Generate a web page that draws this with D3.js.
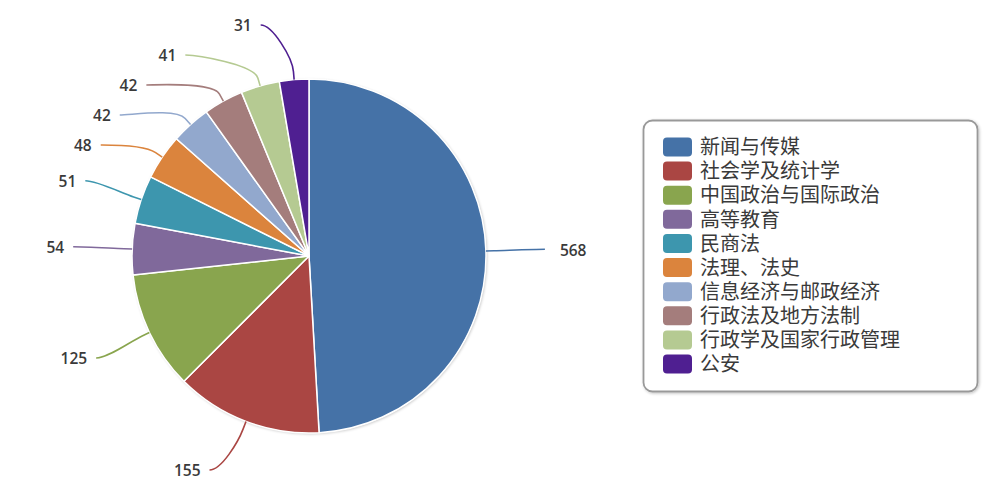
<!DOCTYPE html>
<html>
<head>
<meta charset="utf-8">
<script src="https://cdn.jsdelivr.net/npm/d3@7/dist/d3.min.js"></script>
<style>
  html, body { margin: 0; padding: 0; background: #fff; }
  svg { display: block; }
</style>
</head>
<body>
<svg id="chart" width="1000" height="494"></svg>
<script>
const categories = ["新闻与传媒", "社会学及统计学", "中国政治与国际政治", "高等教育", "民商法", "法理、法史", "信息经济与邮政经济", "行政法及地方法制", "行政学及国家行政管理", "公安"];
const values = [568, 155, 125, 54, 51, 48, 42, 42, 41, 31];
const colors = ["#4572A7", "#AA4643", "#89A54E", "#80699B", "#3D96AE", "#DB843D", "#92A8CD", "#A47D7C", "#B5CA92", "#4F1F91"];

const svg = d3.select("#chart");
const cx = 309, cy = 256, radius = 177;
const labelR = 236;
const slot = 30, topLimit = 25, bottomLimit = 470;

const data = categories.map((c, i) => ({ name: c, value: values[i], color: colors[i] }));
const pie = d3.pie().sort(null).value(d => d.value).startAngle(0).endAngle(2 * Math.PI);
const arcs = pie(data);
const arc = d3.arc().innerRadius(0).outerRadius(radius);

const defs = svg.append("defs");
const f = defs.append("filter").attr("id", "shadow").attr("x", "-10%").attr("y", "-10%").attr("width", "120%").attr("height", "120%");
f.append("feGaussianBlur").attr("in", "SourceAlpha").attr("stdDeviation", 1.5);
f.append("feOffset").attr("dx", 1).attr("dy", 1).attr("result", "b");
f.append("feComponentTransfer").append("feFuncA").attr("type", "linear").attr("slope", 0.25);
const m = f.append("feMerge"); m.append("feMergeNode"); m.append("feMergeNode").attr("in", "SourceGraphic");

const g = svg.append("g").attr("transform", `translate(${cx},${cy})`);
g.append("circle").attr("r", radius).attr("fill", "#fff").attr("filter", "url(#shadow)");
g.selectAll("path.slice").data(arcs).enter().append("path")
  .attr("class", "slice")
  .attr("d", arc)
  .attr("fill", d => d.data.color)
  .attr("stroke", "#fff")
  .attr("stroke-width", 1.5)
  .attr("stroke-linejoin", "round");

// label layout
arcs.forEach(a => {
  a.mid = (a.startAngle + a.endAngle) / 2;
  a.side = a.mid < Math.PI ? 1 : -1;
  a.natY = cy - labelR * Math.cos(a.mid);
});
function distribute(list) {
  list.sort((p, q) => p.natY - q.natY);
  list.forEach((a, i) => {
    let y = Math.max(a.natY, topLimit);
    if (i > 0) y = Math.max(y, list[i - 1].y + slot);
    a.y = y;
  });
  for (let i = list.length - 1; i >= 0; i--) {
    let y = Math.min(list[i].y, bottomLimit);
    if (i < list.length - 1) y = Math.min(y, list[i + 1].y - slot);
    list[i].y = y;
  }
}
distribute(arcs.filter(a => a.side === 1));
distribute(arcs.filter(a => a.side === -1));

const lg = svg.append("g");
arcs.forEach(a => {
  const dy = Math.max(-labelR, Math.min(labelR, a.y - cy));
  const ax = cx + a.side * Math.sqrt(labelR * labelR - dy * dy);
  const ay = a.y;
  const sx = Math.sin(a.mid), sy = -Math.cos(a.mid);
  const p4 = [cx + sx * radius, cy + sy * radius];
  const p2 = [cx + sx * (radius + 8), cy + sy * (radius + 8)];
  const c2 = [cx + sx * (radius + 22), cy + sy * (radius + 22)];
  const path = d3.path();
  path.moveTo(ax, ay);
  path.bezierCurveTo(ax - a.side * 12, ay, c2[0], c2[1], p2[0], p2[1]);
  path.lineTo(p4[0], p4[1]);
  lg.append("path").attr("d", path.toString())
    .attr("fill", "none").attr("stroke", a.data.color).attr("stroke-width", 1.6);
  lg.append("text")
    .attr("x", ax + (a.side === 1 ? 15 : -9))
    .attr("y", ay + 1)
    .attr("dy", "0.35em")
    .attr("text-anchor", a.side === 1 ? "start" : "end")
    .attr("font-family", "'Open Sans', sans-serif")
    .attr("font-size", 15.5)
    .attr("font-weight", 600)
    .attr("fill", "#3a3a3a")
    .text(a.data.value);
});

// legend
const leg = svg.append("g");
leg.append("rect").attr("x", 643.5).attr("y", 120.5).attr("width", 334).attr("height", 271)
  .attr("rx", 9).attr("fill", "#fff").attr("stroke", "#999").attr("stroke-width", 1.8)
  .attr("filter", "url(#shadow)");
const rowY = d3.scalePoint().domain(categories).range([147, 364]);
const items = leg.selectAll("g.item").data(data).enter().append("g").attr("class", "item")
  .attr("transform", d => `translate(0,${rowY(d.name)})`);
items.append("rect").attr("x", 663).attr("y", -9.5).attr("width", 29).attr("height", 19)
  .attr("rx", 4).attr("fill", d => d.color);
items.append("text").attr("x", 700).attr("y", 0).attr("dy", "0.36em")
  .attr("font-family", "'Noto Sans CJK SC', sans-serif").attr("font-size", 20)
  .attr("fill", "#3a3a3a").text(d => d.name);
</script>
</body>
</html>
